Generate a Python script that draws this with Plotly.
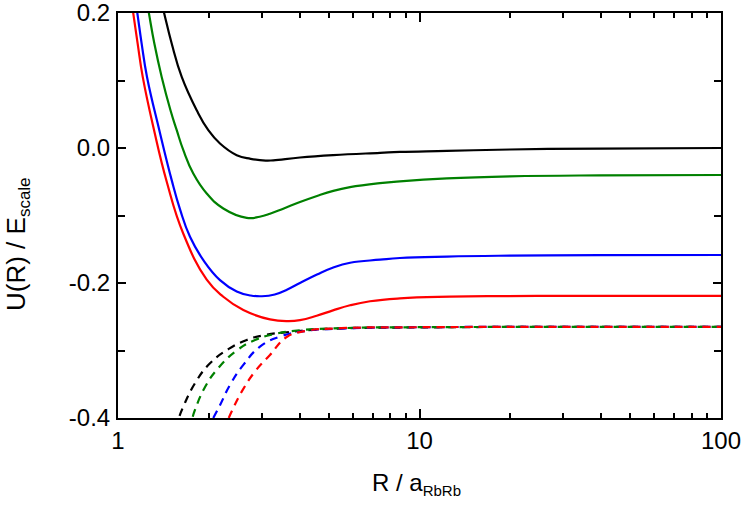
import plotly.graph_objects as go

# ---- data (R in units of a_RbRb, U in units of E_scale) ----
black_R = [1.387, 1.424, 1.507, 1.627, 1.824, 1.993, 2.179, 2.476, 2.754, 3.090, 3.274, 4.014, 5.176, 7.396, 8.610, 12.33, 19.95, 39.81, 100]
black_U = [0.220, 0.199, 0.1547, 0.1053, 0.056, 0.0264, 0.0067, -0.0106, -0.016, -0.0186, -0.0182, -0.0141, -0.0106, -0.0072, -0.0058, -0.0043, -0.0022, -0.0008, 0.0]

green_R = [1.239, 1.267, 1.320, 1.396, 1.493, 1.566, 1.647, 1.777, 1.969, 2.235, 2.673, 2.951, 3.192, 3.548, 4.014, 4.571, 5.176, 5.883, 7.396, 8.610, 12.33, 19.95, 39.81, 100]
green_U = [0.224, 0.199, 0.1547, 0.1053, 0.056, 0.0264, -0.0033, -0.0377, -0.0673, -0.0896, -0.1035, -0.1018, -0.0975, -0.0895, -0.0800, -0.0710, -0.0635, -0.0580, -0.0520, -0.0493, -0.0450, -0.0420, -0.0405, -0.0400]

blue_R = [1.132, 1.159, 1.198, 1.248, 1.371, 1.507, 1.606, 1.733, 1.919, 2.179, 2.476, 2.754, 3.003, 3.311, 3.646, 4.014, 4.571, 5.176, 5.888, 7.396, 8.610, 12.33, 19.95, 39.81, 100]
blue_U = [0.231, 0.200, 0.1547, 0.1053, 0.0264, -0.0476, -0.091, -0.1316, -0.1661, -0.1957, -0.2125, -0.2185, -0.2196, -0.2170, -0.2095, -0.2000, -0.1875, -0.1770, -0.1700, -0.1655, -0.1630, -0.1608, -0.1595, -0.1588, -0.1585]

red_R = [1.0965, 1.124, 1.162, 1.208, 1.316, 1.451, 1.647, 1.969, 2.235, 2.604, 3.192, 3.673, 4.014, 4.560, 5.164, 5.883, 6.855, 8.610, 12.62, 18.49, 39.81, 100]
red_U = [0.232, 0.199, 0.1547, 0.1053, 0.027, -0.050, -0.127, -0.195, -0.2204, -0.2401, -0.2539, -0.2564, -0.2550, -0.2485, -0.2405, -0.2330, -0.2270, -0.2228, -0.2203, -0.2194, -0.2191, -0.2190]

black_dash_R = [1.60, 1.647, 1.800, 2.019, 2.322, 2.673, 3.073, 3.627, 5.0, 10, 100]
black_dash_U = [-0.397, -0.383, -0.3485, -0.319, -0.298, -0.2844, -0.277, -0.273, -0.268, -0.2658, -0.265]

green_dash_R = [1.77, 1.800, 1.944, 2.151, 2.476, 2.848, 3.274, 4.0, 6.0, 10, 100]
green_dash_U = [-0.398, -0.388, -0.354, -0.326, -0.300, -0.2844, -0.276, -0.270, -0.2665, -0.2655, -0.265]

blue_dash_R = [2.07, 2.179, 2.352, 2.604, 2.958, 3.445, 4.2, 6.0, 10, 100]
blue_dash_U = [-0.400, -0.381, -0.351, -0.3214, -0.2943, -0.2795, -0.271, -0.267, -0.2655, -0.265]

red_dash_R = [2.33, 2.384, 2.572, 2.848, 3.192, 3.627, 4.2, 5.5, 10, 100]
red_dash_U = [-0.400, -0.390, -0.361, -0.331, -0.3066, -0.280, -0.271, -0.267, -0.2655, -0.265]

x_tick_vals = [1, 10, 100]
x_tick_text = ["1", "10", "100"]
x_minor_vals = [2, 3, 4, 5, 6, 7, 8, 9, 20, 30, 40, 50, 60, 70, 80, 90]
y_tick_vals = [-0.4, -0.2, 0.0, 0.2]
y_tick_text = ["-0.4", "-0.2", "0.0", "0.2"]
y_minor_vals = [-0.3, -0.1, 0.1]

BLACK = "#000000"
GREEN = "#008000"
BLUE = "#0000FF"
RED = "#FF0000"
FONT = "Liberation Sans, Arial, sans-serif"

fig = go.Figure()

solid = [(black_R, black_U, BLACK), (green_R, green_U, GREEN), (blue_R, blue_U, BLUE), (red_R, red_U, RED)]
dashed = [(black_dash_R, black_dash_U, BLACK), (green_dash_R, green_dash_U, GREEN),
          (blue_dash_R, blue_dash_U, BLUE), (red_dash_R, red_dash_U, RED)]

for xs, ys, c in solid:
    fig.add_trace(go.Scatter(x=xs, y=ys, mode="lines",
                             line=dict(color=c, width=2.2, shape="spline", smoothing=1.3),
                             showlegend=False, hoverinfo="skip"))
for xs, ys, c in dashed:
    fig.add_trace(go.Scatter(x=xs, y=ys, mode="lines",
                             line=dict(color=c, width=2.2, dash="8px,6px", shape="spline", smoothing=1.3),
                             showlegend=False, hoverinfo="skip"))

fig.update_layout(
    width=748, height=506,
    margin=dict(l=118, r=27, t=13, b=88, autoexpand=False),
    paper_bgcolor="white", plot_bgcolor="white",
    font=dict(family=FONT, size=24, color="black"),
    showlegend=False,
)

fig.update_xaxes(
    type="log", range=[0, 2], automargin=False,
    showgrid=False, zeroline=False,
    showline=True, linecolor="black", linewidth=2, mirror="allticks",
    ticks="inside", ticklen=9, tickwidth=1.5, tickcolor="black",
    tickvals=x_tick_vals, ticktext=x_tick_text, ticklabeloverflow="allow",
    tickfont=dict(family=FONT, size=24, color="black"),
    minor=dict(tickvals=x_minor_vals, ticks="inside", ticklen=5, tickwidth=1.5, tickcolor="black", showgrid=False),
)
fig.update_yaxes(
    range=[-0.4, 0.2], automargin=False,
    showgrid=False, zeroline=False,
    showline=True, linecolor="black", linewidth=2, mirror="allticks",
    ticks="inside", ticklen=8, tickwidth=1.5, tickcolor="black",
    tickvals=y_tick_vals, ticktext=y_tick_text, ticklabelstandoff=1, ticklabeloverflow="allow",
    tickfont=dict(family=FONT, size=24, color="black"),
    minor=dict(tickvals=y_minor_vals, ticks="inside", ticklen=7, tickwidth=1.5, tickcolor="black", showgrid=False),
)

fig.add_annotation(
    text="R / a<sub><span style='font-size:15px'>RbRb</span></sub>",
    xref="paper", yref="paper", x=(416 - 118) / 603, y=(418 - 484) / 405,
    xanchor="center", yanchor="middle", showarrow=False,
    font=dict(family=FONT, size=24, color="black"),
)
fig.add_annotation(
    text="U(R) / E<sub><span style='font-size:17px'>scale</span></sub>",
    xref="paper", yref="paper", x=(17 - 118) / 603, y=(418 - 244) / 405,
    xanchor="center", yanchor="middle", textangle=-90, showarrow=False,
    font=dict(family=FONT, size=26, color="black"),
)

fig.write_html("out.html", config={"displayModeBar": False},
               post_script="document.body.style.margin='0';document.body.style.overflow='hidden';")
